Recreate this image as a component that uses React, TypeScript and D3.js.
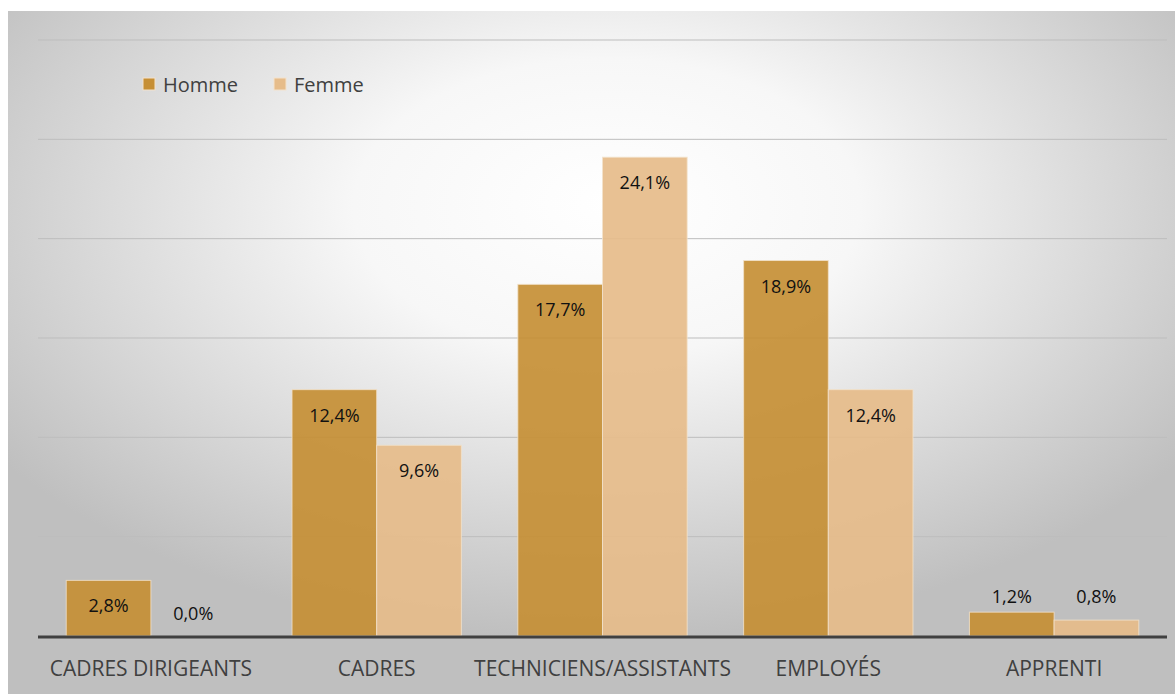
import React from "react";
import * as d3 from "d3";

const categories = ["CADRES DIRIGEANTS", "CADRES", "TECHNICIENS/ASSISTANTS", "EMPLOYÉS", "APPRENTI"];
const seriesNames = ["Homme", "Femme"];
const homme = [2.8, 12.4, 17.7, 18.9, 1.2];
const femme = [0.0, 9.6, 24.1, 12.4, 0.8];
const yTicks = [0, 5, 10, 15, 20, 25, 30];

const colors = ["#C68F35", "#E6BC8A"];
const W = 1175;
const H = 694;
const font = "'Open Sans', 'Noto Sans', sans-serif";

export default function App() {
  const x0 = d3.scaleBand<string>().domain(categories).range([38, 1167]).paddingInner(0.25).paddingOuter(0.125);
  const x1 = d3.scaleBand<string>().domain(seriesNames).range([0, x0.bandwidth()]);
  const y = d3.scaleLinear().domain([0, 30]).range([636, 40]);
  const series = [homme, femme];
  const fmt = (v: number) => v.toFixed(1).replace(".", ",") + "%";

  return (
    <svg width={W} height={H} style={{ position: "absolute", left: 0, top: 0 }}>
      <defs>
        <radialGradient id="bg" cx="0.5" cy="0.3" r="0.62" fx="0.52" fy="0.28">
          <stop offset="0" stopColor="#ffffff" />
          <stop offset="0.35" stopColor="#f7f7f7" />
          <stop offset="1" stopColor="#bfbfbf" />
        </radialGradient>
      </defs>
      <rect x={0} y={0} width={W} height={H} fill="#fff" />
      <rect x={8} y={11} width={W - 8} height={H - 11} fill="url(#bg)" />
      {yTicks.filter((t) => t > 0).map((t) => (
        <line key={t} x1={38} x2={1167} y1={y(t)} y2={y(t)} stroke="#bdbdbd" strokeWidth={1} />
      ))}
      {categories.map((c, i) => (
        <g key={c} transform={`translate(${x0(c)},0)`}>
          {seriesNames.map((s, j) => {
            const v = series[j][i];
            const top = y(v);
            const h = y(0) - top;
            const bx = (x1(s) as number);
            const bw = x1.bandwidth();
            const inside = h > 40;
            const ly = inside ? top + 32 : v === 0 ? y(0) - 16 : y(0) - 33;
            return (
              <g key={s}>
                {h > 0 && (
                  <rect x={bx} y={top} width={bw} height={h} fill={colors[j]} fillOpacity={0.92}
                    stroke="#f3e2cc" strokeOpacity={0.8} strokeWidth={1} />
                )}
                <text x={bx + bw / 2} y={ly} textAnchor="middle" fontFamily={font} fontSize={18} fill="#111">
                  {fmt(v)}
                </text>
              </g>
            );
          })}
          <text x={x0.bandwidth() / 2} y={676} textAnchor="middle" fontFamily={font} fontSize={21} fill="#404040">
            {c}
          </text>
        </g>
      ))}
      <line x1={38} x2={1167} y1={y(0) + 1} y2={y(0) + 1} stroke="#404040" strokeWidth={3} />
      {seriesNames.map((s, j) => {
        const lx = j === 0 ? 143 : 274;
        return (
          <g key={s}>
            <rect x={lx} y={78} width={12} height={12} fill={colors[j]} stroke="#f3e2cc" strokeWidth={1} />
            <text x={lx + 20} y={92} fontFamily={font} fontSize={20} fill="#404040">{s}</text>
          </g>
        );
      })}
    </svg>
  );
}
